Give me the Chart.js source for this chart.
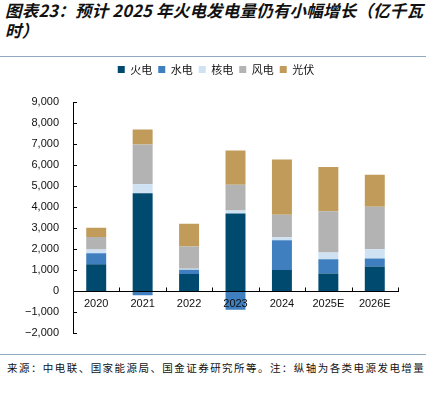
<!DOCTYPE html>
<html><head><meta charset="utf-8">
<script src="https://cdn.jsdelivr.net/npm/chart.js@4/dist/chart.umd.min.js"></script>
<style>
html,body{margin:0;padding:0;background:#fff;}
#wrap{position:relative;width:436px;height:395px;overflow:hidden;background:#fff;}
#title{position:absolute;left:5px;top:0px;width:425px;font-family:"Noto Sans CJK SC",sans-serif;font-size:16.5px;font-weight:bold;font-style:italic;line-height:20px;color:#111;letter-spacing:0.2px;}
#line1{position:absolute;left:0;top:56px;width:426px;height:1px;background:#8fa9c0;}
#cv{position:absolute;left:0;top:58px;}
#line2{position:absolute;left:0;top:354px;width:426px;height:1px;background:#8fa9c0;}
#src{position:absolute;left:7px;top:360px;font-family:"Noto Sans CJK SC",sans-serif;font-size:10.5px;color:#111;letter-spacing:1.45px;white-space:nowrap;}
</style></head>
<body><div id="wrap">
<div id="title">图表23：预计 2025 年火电发电量仍有小幅增长（亿千瓦时）</div>
<div id="line1"></div>
<canvas id="cv" width="436" height="296"></canvas>
<div id="line2"></div>
<div id="src">来源：中电联、国家能源局、国金证券研究所等。注：纵轴为各类电源发电增量</div>
</div>
<script>
const categories = ["2020","2021","2022","2023","2024","2025E","2026E"];
const seriesNames = ["火电","水电","核电","风电","光伏"];
const thermal = [1290, 4660, 820, 3695, 1010, 850, 1185];
const hydro   = [520, -190, 207, -870, 1420, 680, 380];
const nuclear = [175, 425, 50, 142, 140, 315, 440];
const wind    = [600, 1895, 1057, 1232, 1075, 1960, 2020];
const solar   = [440, 712, 1076, 1623, 2620, 2100, 1515];
const yTicks = [-2000,-1000,0,1000,2000,3000,4000,5000,6000,7000,8000,9000];
const colors = ["#004a70","#3f7fbf","#cfe2f3","#b3b3b3","#c19b5a"];
const seriesData = [thermal, hydro, nuclear, wind, solar];

const legendTweak = {
  id:'legendTweak',
  beforeInit(chart){
    const lg = chart.legend;
    if(lg){
      const orig = lg.fit;
      lg.fit = function(){ orig.call(this); this.height = 44; };
    }
  },
  afterLayout(chart){
    const lg = chart.legend;
    if(lg){ lg.left += 17; lg.right += 17; }
  }
};

const innerTicks = {
  id:'innerTicks',
  afterDatasetsDraw(chart){
    const ctx = chart.ctx, x = chart.scales.x, y = chart.scales.y;
    ctx.save();
    ctx.strokeStyle = '#000'; ctx.lineWidth = 1;
    yTicks.forEach(v=>{
      const py = Math.round(y.getPixelForValue(v))+0.5;
      ctx.beginPath(); ctx.moveTo(x.left, py); ctx.lineTo(x.left+4, py); ctx.stroke();
    });
    const zy = Math.round(y.getPixelForValue(0))+0.5;
    const n = categories.length;
    for(let i=0;i<=n;i++){
      const px = Math.round(x.getPixelForValue(i-0.5))+0.5;
      ctx.beginPath(); ctx.moveTo(px, zy); ctx.lineTo(px, zy-4); ctx.stroke();
    }
    ctx.restore();
  }
};

new Chart(document.getElementById('cv'), {
  type:'bar',
  data:{
    labels: categories,
    datasets: seriesNames.map((n,i)=>({
      label:n, data:seriesData[i], backgroundColor:colors[i],
      borderWidth:0, barPercentage:0.43, categoryPercentage:1.0
    }))
  },
  options:{
    responsive:false, animation:false, devicePixelRatio:1,
    layout:{padding:{left:0,right:38,top:0,bottom:0}},
    plugins:{
      legend:{position:'top', labels:{boxWidth:7, boxHeight:7, padding:6,
        font:{family:'"Noto Sans CJK SC", sans-serif', size:11}, color:'#111'}},
      tooltip:{enabled:false}
    },
    scales:{
      x:{stacked:true, position:{y:0},
        grid:{display:false, drawTicks:false},
        border:{display:true,color:'#000',width:1,z:1},
        ticks:{z:1, color:'#111', padding:6, font:{family:'"Liberation Sans", Arial, sans-serif', size:11}}
      },
      y:{stacked:true, min:-2000, max:9000,
        afterFit(s){ s.width = 73; },
        grid:{display:false, drawTicks:false},
        border:{display:true,color:'#000',width:1},
        ticks:{stepSize:1000, padding:14, color:'#111',
          font:{family:'"Liberation Sans", Arial, sans-serif', size:11},
          callback:(v)=> (v<0?'\u2212':'') + Math.abs(v).toLocaleString('en-US')}
      }
    }
  },
  plugins:[legendTweak, innerTicks]
});
</script>
</body></html>
